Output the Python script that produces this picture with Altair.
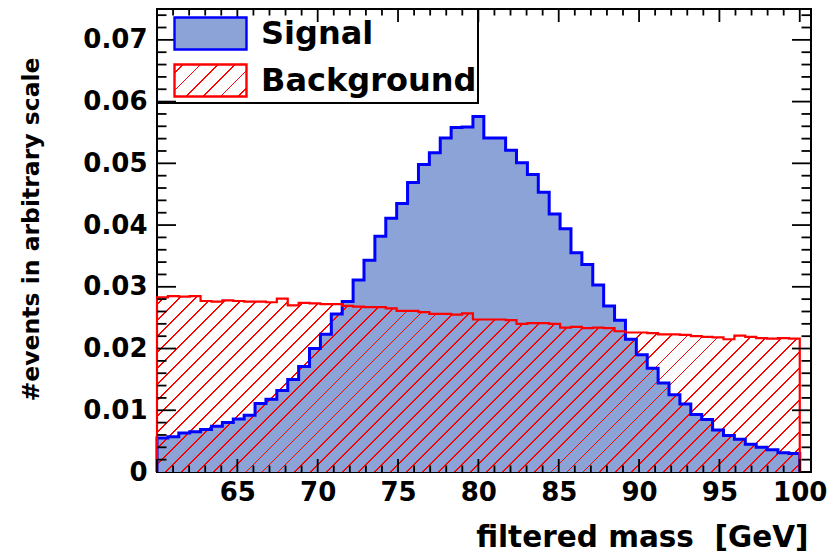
import math
import altair as alt
import pandas as pd

# ---------------- data ----------------
HIST_LO, HIST_HI = 60.0, 100.0          # histogram range (59 equal bins)
X_MIN, X_MAX = 60.0, 100.7              # axis range
Y_MIN, Y_MAX = 0.0, 0.075

signal = [
    0.0055, 0.0057, 0.0063, 0.0065, 0.0069, 0.0074, 0.0080, 0.0086, 0.0092, 0.0111,
    0.0118, 0.0132, 0.0150, 0.0171, 0.0200, 0.0223, 0.0256, 0.0276, 0.0311, 0.0343,
    0.0382, 0.0411, 0.0435, 0.0469, 0.0498, 0.0517, 0.0541, 0.0558, 0.0559, 0.0576,
    0.0541, 0.0541, 0.0521, 0.0501, 0.0482, 0.0453, 0.0418, 0.0394, 0.0355, 0.0336,
    0.0303, 0.0269, 0.0246, 0.0215, 0.0190, 0.0168, 0.0144, 0.0125, 0.0110, 0.0093,
    0.0085, 0.0068, 0.0059, 0.0053, 0.0045, 0.0040, 0.0036, 0.0031, 0.0030,
]
background = [
    0.0283, 0.0285, 0.0284, 0.0285, 0.0277, 0.0276, 0.0278, 0.0277, 0.0276, 0.0276,
    0.0275, 0.0281, 0.0270, 0.0274, 0.0273, 0.0272, 0.0272, 0.0269, 0.0268, 0.0267,
    0.0267, 0.0265, 0.0261, 0.0261, 0.0259, 0.0256, 0.0256, 0.0255, 0.0257, 0.0247,
    0.0247, 0.0247, 0.0246, 0.0240, 0.0241, 0.0241, 0.0240, 0.0234, 0.0235, 0.0233,
    0.0234, 0.0233, 0.0228, 0.0226, 0.0226, 0.0225, 0.0223, 0.0223, 0.0222, 0.0220,
    0.0219, 0.0218, 0.0215, 0.0221, 0.0219, 0.0217, 0.0216, 0.0217, 0.0216,
]
series_names = ["Signal", "Background"]

x_labels = [65, 70, 75, 80, 85, 90, 95, 100]
x_major = [60, 65, 70, 75, 80, 85, 90, 95, 100]
x_minor = [v for v in range(61, 101) if v % 5 != 0]
y_labels = [0, 0.01, 0.02, 0.03, 0.04, 0.05, 0.06, 0.07]
y_major = [0.01, 0.02, 0.03, 0.04, 0.05, 0.06, 0.07]
y_minor = [round(0.002 * k, 4) for k in range(1, 38) if k % 5 != 0]

x_title = "filtered mass \u00a0[GeV]"
y_title = "#events in arbitrary scale"

# ---------------- style ----------------
FONT = "DejaVu Sans"
W, H = 654, 463
SIG_FILL = "#8ba3d6"
SIG_LINE = "#0000ff"
BKG_LINE = "#ff0000"
CLEAR = "rgba(255,255,255,0)"

# a gradient-valued scale range entry is not described by the JSON schema,
# so skip schema validation on the top-level chart.
_orig_to_dict = alt.LayerChart.to_dict


def _to_dict_novalidate(self, validate=True, **kwargs):
    return _orig_to_dict(self, validate=False, **kwargs)


alt.LayerChart.to_dict = _to_dict_novalidate

n = len(signal)
bw = (HIST_HI - HIST_LO) / n
edges = [HIST_LO + i * bw for i in range(n)]


def area_df(vals):
    rows = [{"x": edges[i], "y": vals[i]} for i in range(n)]
    rows.append({"x": HIST_HI, "y": vals[-1]})
    return pd.DataFrame(rows)


def line_df(vals):
    rows = [{"x": HIST_LO, "y": 0.0, "o": -1}]
    rows += [{"x": edges[i], "y": vals[i], "o": i} for i in range(n)]
    rows.append({"x": HIST_HI, "y": vals[-1], "o": n})
    rows.append({"x": HIST_HI, "y": 0.0, "o": n + 1})
    return pd.DataFrame(rows)


def hatch(w_px, h_px, spacing_h, lw, color):
    """Diagonal '/' hatch as a striped linear gradient over the mark's bounding box."""
    r = h_px / w_px
    a = (1 + r) / (1 + r * r)
    b = a * r
    L = (w_px + h_px) / math.sqrt(2)
    k = max(1, round(L / (spacing_h / math.sqrt(2))))
    hw = lw / 2 / L
    stops = [{"offset": 0, "color": CLEAR}]
    for i in range(k):
        c = (i + 0.5) / k
        lo, hi = round(max(0, c - hw), 5), round(min(1, c + hw), 5)
        stops += [
            {"offset": lo, "color": CLEAR},
            {"offset": lo, "color": color},
            {"offset": hi, "color": color},
            {"offset": hi, "color": CLEAR},
        ]
    stops.append({"offset": 1, "color": CLEAR})
    return {"gradient": "linear", "x1": 0, "y1": 0, "x2": round(a, 5), "y2": round(b, 5), "stops": stops}


def js_literal(obj):
    if isinstance(obj, dict):
        return "{" + ",".join(f"{k}:{js_literal(v)}" for k, v in obj.items()) + "}"
    if isinstance(obj, list):
        return "[" + ",".join(js_literal(v) for v in obj) + "]"
    if isinstance(obj, str):
        return "'" + obj + "'"
    return repr(obj)


area_w = (HIST_HI - HIST_LO) / (X_MAX - X_MIN) * W
area_h = max(background) / (Y_MAX - Y_MIN) * H
bkg_grad = hatch(area_w, area_h, 16.0, 1.3, BKG_LINE)
leg_grad = hatch(72, 32, 18.0, 1.3, BKG_LINE)

xscale = alt.Scale(domain=[X_MIN, X_MAX], nice=False, zero=False)
yscale = alt.Scale(domain=[Y_MIN, Y_MAX], nice=False, zero=False)
stroke_scale = alt.Scale(domain=series_names, range=[SIG_LINE, BKG_LINE])
fill_scale = alt.Scale(domain=series_names)
fill_scale["range"] = [SIG_FILL, {"expr": js_literal(leg_grad)}]

x_axis = alt.Axis(
    values=x_labels, ticks=False, domain=False, grid=False, labelFlush=False,
    labelOverlap=False, labelFont=FONT, labelFontWeight="bold", labelFontSize=26,
    labelColor="black", labelPadding=7, title=x_title, titleFont=FONT,
    titleFontWeight="bold", titleFontSize=29.5, titleColor="black", titleAnchor="end",
    titleAlign="right", titleBaseline="alphabetic", titleX=651, titleY=74,
)
y_axis = alt.Axis(
    values=y_labels, ticks=False, domain=False, grid=False, labelFlush=False,
    labelOverlap=False, labelFont=FONT, labelFontWeight="bold", labelFontSize=26,
    labelColor="black", labelPadding=10,
    labelExpr="datum.value == 0 ? '0' : format(datum.value, '.2f')",
    title=y_title, titleFont=FONT, titleFontWeight="bold", titleFontSize=23.5,
    titleColor="black", titleAngle=270, titleAlign="right", titleBaseline="alphabetic",
    titleX=-119, titleY=48,
)

legend = alt.Legend(
    title=None, orient="top-left", offset=0, padding=1.5, rowPadding=3,
    symbolType="M-1.674,-0.744H1.674V0.744H-1.674Z", symbolSize=43 * 43,
    symbolOffset=29, labelOffset=27.5, labelFont=FONT, labelFontWeight="bold",
    labelFontSize=32, labelColor="black", labelLimit=600, strokeColor="black",
    labelExpr="datum.label + '\u2002'",
    symbolStrokeWidth=2.4,
)

X = lambda f: alt.X(f, scale=xscale, axis=x_axis)
Y = lambda f: alt.Y(f, scale=yscale, axis=y_axis, stack=None)

sig_area = alt.Chart(area_df(signal)).mark_area(
    interpolate="step-after", fill=SIG_FILL
).encode(x=X("x:Q"), y=Y("y:Q"))
bkg_area = alt.Chart(area_df(background)).mark_area(
    interpolate="step-after", fill=bkg_grad
).encode(x=X("x:Q"), y=Y("y:Q"))
sig_line = alt.Chart(line_df(signal)).mark_line(
    interpolate="step-after", strokeWidth=3, color=SIG_LINE
).encode(x=X("x:Q"), y=Y("y:Q"), order="o:Q")
bkg_line = alt.Chart(line_df(background)).mark_line(
    interpolate="step-after", strokeWidth=2.2, color=BKG_LINE
).encode(x=X("x:Q"), y=Y("y:Q"), order="o:Q")

# legend entries (the marks themselves sit outside the frame and are clipped)
key_df = pd.DataFrame({"series": series_names})
legend_keys = alt.Chart(key_df).mark_rect(clip=True, strokeWidth=2.4).encode(
    x=alt.datum(50.0, scale=xscale, axis=x_axis),
    x2=alt.datum(51.0),
    y=alt.datum(-0.02, scale=yscale, axis=y_axis),
    y2=alt.datum(-0.01),
    fill=alt.Fill("series:N", scale=fill_scale, legend=legend),
    stroke=alt.Stroke("series:N", scale=stroke_scale, legend=legend),
)


def vticks(vals, y0, y1):
    return alt.Chart(pd.DataFrame({"x": vals})).mark_rule(
        color="black", strokeWidth=1.8
    ).encode(x=X("x:Q"), y=alt.value(y0), y2=alt.value(y1))


def hticks(vals, x0, x1):
    return alt.Chart(pd.DataFrame({"y": vals})).mark_rule(
        color="black", strokeWidth=1.8
    ).encode(y=Y("y:Q"), x=alt.value(x0), x2=alt.value(x1))


ticks = [
    vticks(x_major, H, H - 13), vticks(x_minor, H, H - 6.5),
    vticks(x_major, 0, 13), vticks(x_minor, 0, 6.5),
    hticks(y_major, 0, 19), hticks(y_minor, 0, 9.5),
    hticks(y_major, W, W - 19), hticks(y_minor, W, W - 9.5),
]

chart = alt.layer(sig_area, bkg_area, sig_line, bkg_line, legend_keys, *ticks).properties(
    width=W, height=H,
    autosize=alt.AutoSizeParams(type="none"),
    padding={"left": 157, "top": 9, "right": 22, "bottom": 80},
    background="white",
).configure_view(
    stroke="black", strokeWidth=2
).configure_legend(
    strokeWidth=2
)

chart.save("out.html", embed_options={"renderer": "svg", "actions": False})
